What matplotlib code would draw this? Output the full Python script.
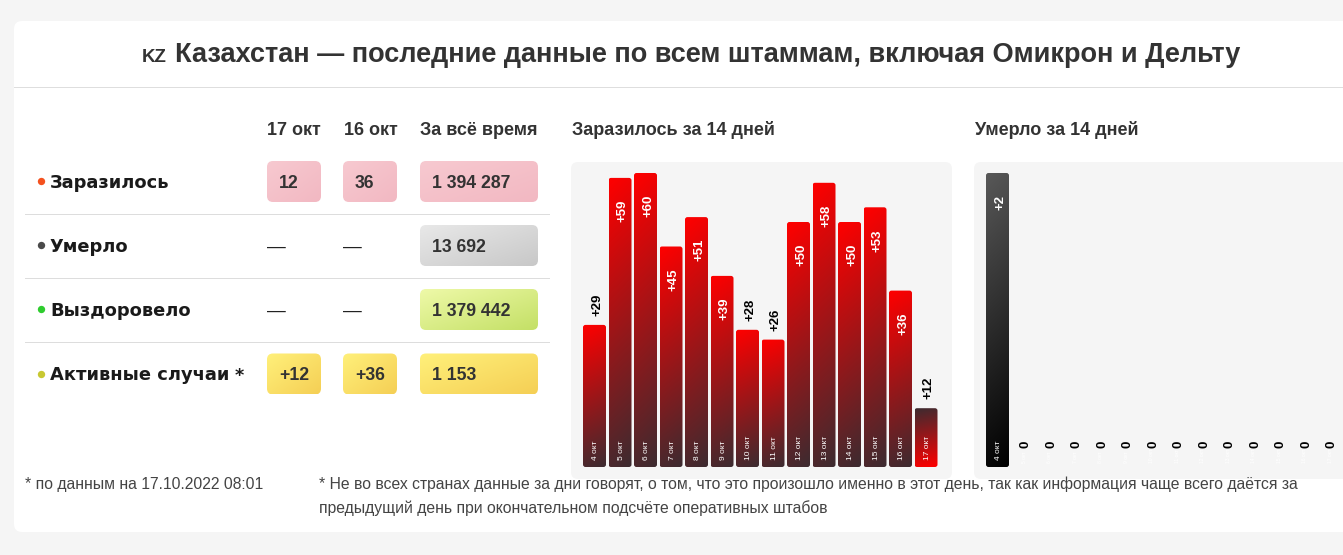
import numpy as np
import matplotlib
matplotlib.use("Agg")
import matplotlib.pyplot as plt
from matplotlib.patches import FancyBboxPatch
from matplotlib.colors import LinearSegmentedColormap

W, H = 1343, 555

dates = ["4 окт", "5 окт", "6 окт", "7 окт", "8 окт", "9 окт", "10 окт", "11 окт",
         "12 окт", "13 окт", "14 окт", "15 окт", "16 окт", "17 окт"]
infected = [29, 59, 60, 45, 51, 39, 28, 26, 50, 58, 50, 53, 36, 12]
deaths = [2, 0, 0, 0, 0, 0, 0, 0, 0, 0, 0, 0, 0, 0]

row_names = ["Заразилось", "Умерло", "Выздоровело", "Активные случаи"]
dot_colors = ["#f4511e", "#4a4a4a", "#2ecc2e", "#c8c832"]
col_today = ["12", "—", "—", "+12"]
col_yesterday = ["36", "—", "—", "+36"]
col_total = ["1 394 287", "13 692", "1 379 442", "1 153"]
col_headers = ["17 окт", "16 окт", "За всё время"]
box_colors = [("#f7c9d0", "#f2b8c2"), ("#e8e8e8", "#c8c8c8"),
              ("#eef9a8", "#c4e066"), ("#fff07a", "#f5cf55")]

plt.rcParams["font.family"] = ["Liberation Sans", "DejaVu Sans"]

fig = plt.figure(figsize=(W / 100, H / 100), dpi=100, facecolor="#f5f5f5")

# фон и таблица рисуем в пикселях
bg = fig.add_axes([0, 0, 1, 1])
bg.set_xlim(0, W)
bg.set_ylim(H, 0)
bg.axis("off")


def gradient_box(ax, x0, y0, x1, y1, c0, c1, rounding, aspect=1.0, tilt=0.0, zorder=2):
    # прямоугольник с градиентом и скруглёнными углами, c0 в точке (x0, y0)
    cmap = LinearSegmentedColormap.from_list("g", [c0, c1])
    xx, yy = np.meshgrid(np.linspace(0, 1, 40), np.linspace(0, 1, 120))
    t = (yy + tilt * xx) / (1 + tilt)
    xlim, ylim = ax.get_xlim(), ax.get_ylim()
    im = ax.imshow(t, extent=(x0, x1, y1, y0), origin="upper", cmap=cmap, vmin=0, vmax=1,
                   aspect="auto", zorder=zorder, interpolation="bilinear")
    patch = FancyBboxPatch((x0, min(y0, y1)), x1 - x0, abs(y1 - y0),
                           boxstyle=f"round,pad=0,rounding_size={rounding}",
                           mutation_aspect=aspect, fc="none", ec="none", zorder=zorder)
    ax.add_patch(patch)
    im.set_clip_path(patch)
    ax.set_xlim(xlim)
    ax.set_ylim(ylim)


# карточка
bg.add_patch(FancyBboxPatch((14, 21), W + 40, 511, boxstyle="round,pad=0,rounding_size=8",
                            fc="white", ec="none", zorder=0))
bg.plot([14, W], [86.5, 86.5], color="#dedede", lw=0.72, zorder=1)
bg.text(175, 62, "Казахстан — последние данные по всем штаммам, включая Омикрон и Дельту",
        fontsize=19.5, fontweight="bold", color="#333333", va="baseline", ha="left")
bg.text(142, 62, "KZ", fontsize=13.5, fontweight="bold", color="#333333", va="baseline", ha="left")

# таблица
col_x = [267, 343, 420]
col_w = [54, 54, 118]
row_y = [181.5, 245.5, 309.5, 374]
for x, label in zip([267, 344, 420], col_headers):
    bg.text(x, 135, label, fontsize=13, fontweight="bold", color="#333333", va="baseline")
for y in [213.5, 277.5, 341.5]:
    bg.plot([25, 549], [y, y], color="#dddddd", lw=0.72, zorder=1)
for i, name in enumerate(row_names):
    y = row_y[i]
    bg.scatter([40.5], [y - 0.5], s=28, color=dot_colors[i], zorder=3, linewidths=0)
    bg.text(50, y + 6.5, name, fontsize=12.9, fontweight="bold", color="#1a1a1a",
            va="baseline", family=["DejaVu Sans"])
    if name == "Активные случаи":
        bg.text(235, y + 6.5, "*", fontsize=12.7, fontweight="bold", color="#1a1a1a",
                va="baseline", family=["DejaVu Sans"])
    cells = [col_today[i], col_yesterday[i], col_total[i]]
    for j, val in enumerate(cells):
        if val == "—":
            bg.text(col_x[j], y + 6, val, fontsize=13.5, color="#222222", va="baseline")
            continue
        gradient_box(bg, col_x[j], y - 20.5, col_x[j] + col_w[j], y + 20.5,
                     box_colors[i][0], box_colors[i][1], 6, tilt=1.0)
        bg.text(col_x[j] + 12, y + 6, val, fontsize=12.7, fontweight="bold", color="#333333",
                va="baseline", zorder=4)

# подложки графиков
bg.text(572, 135, "Заразилось за 14 дней", fontsize=13, fontweight="bold", color="#333333", va="baseline")
bg.text(975, 135, "Умерло за 14 дней", fontsize=13, fontweight="bold", color="#333333", va="baseline")
bg.add_patch(FancyBboxPatch((571, 162), 381, 317, boxstyle="round,pad=0,rounding_size=7",
                            fc="#f5f5f5", ec="none", zorder=1))
bg.add_patch(FancyBboxPatch((974, 162), 381, 317, boxstyle="round,pad=0,rounding_size=7",
                            fc="#f5f5f5", ec="none", zorder=1))

# сноски
bg.text(25, 489, "* по данным на 17.10.2022 08:01", fontsize=11.3, color="#444444", va="baseline")
bg.text(319, 489, "* Не во всех странах данные за дни говорят, о том, что это произошло именно в этот день, "
        "так как информация чаще всего даётся за", fontsize=11.3, color="#444444", va="baseline")
bg.text(319, 513, "предыдущий день при окончательном подсчёте оперативных штабов",
        fontsize=11.3, color="#444444", va="baseline")


def bar_chart(left_px, first_center_px, values, colors, last_colors=None):
    # панель 381x317 px, ноль на y=467, максимум на y=173
    ax = fig.add_axes([left_px / W, (H - 479) / H, 381 / W, 317 / H])
    ax.patch.set_alpha(0)
    ax.axis("off")
    pitch = 25.5
    per_unit = 294 / max(values)
    ax.set_xlim((left_px - first_center_px) / pitch, (left_px + 381 - first_center_px) / pitch)
    ax.set_ylim(-12 / per_unit, 305 / per_unit)
    xs = np.arange(len(values))
    bars = ax.bar(xs, values, width=23 / pitch, color="none")
    asp = pitch / per_unit
    for i, b in enumerate(bars):
        val = values[i]
        x0, x1 = b.get_x(), b.get_x() + b.get_width()
        if val > 0:
            c0, c1 = colors
            if last_colors is not None and i == len(values) - 1:
                c0, c1 = last_colors
            gradient_box(ax, x0, val, x1, 0, c0, c1, 2.5 / pitch, aspect=asp, tilt=0.08)
        # подпись значения
        txt = "+%d" % val if val > 0 else "0"
        inside = val >= 0.6 * max(values)
        if val == 0:
            off, col, vv = 19, "black", "bottom"
        elif inside:
            off, col, vv = -22, "white", "top"
        else:
            off, col, vv = 9, "black", "bottom"
        ax.annotate(txt, (i, val), xytext=(2.0, off * 0.72), textcoords="offset points",
                    rotation=90, ha="center", va=vv, fontsize=9.5, fontweight="bold",
                    color=col, zorder=6)
        # у нулевых столбцов белая дата почти не видна на светлом фоне
        date_size, date_off = (6, 7.5) if val > 0 else (3.6, 4)
        ax.annotate(dates[i], (i, 0), xytext=(1.0, date_off * 0.72), textcoords="offset points",
                    rotation=90, ha="center", va="bottom", fontsize=date_size,
                    color="white", zorder=5)


bar_chart(571, 594.5, infected, ("#ff0000", "#3d2b30"), last_colors=("#3d2b30", "#ff0000"))
bar_chart(974, 997.5, deaths, ("#585858", "#000000"))

fig.savefig("out.png", dpi=100, facecolor=fig.get_facecolor())
